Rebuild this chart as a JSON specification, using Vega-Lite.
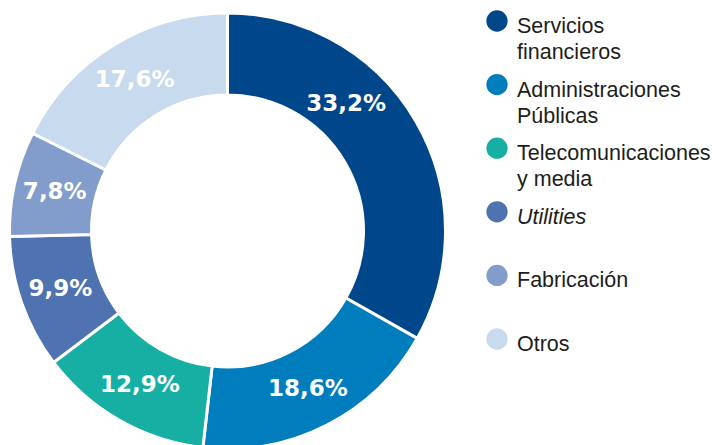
{
  "$schema": "https://vega.github.io/schema/vega-lite/v6.json",
  "padding": 0,
  "spacing": 0,
  "background": "white",
  "config": {"view": {"stroke": null}},
  "data": {"values": [
    {"sector": "Servicios financieros", "legend": "Servicios\nfinancieros", "pct": 33.2, "label": "33,2%", "rank": 1},
    {"sector": "Administraciones Públicas", "legend": "Administraciones\nPúblicas", "pct": 18.6, "label": "18,6%", "rank": 2},
    {"sector": "Telecomunicaciones y media", "legend": "Telecomunicaciones\ny media", "pct": 12.9, "label": "12,9%", "rank": 3},
    {"sector": "Utilities", "legend": "Utilities", "pct": 9.9, "label": "9,9%", "rank": 4},
    {"sector": "Fabricación", "legend": "Fabricación", "pct": 7.8, "label": "7,8%", "rank": 5},
    {"sector": "Otros", "legend": "Otros", "pct": 17.6, "label": "17,6%", "rank": 6}
  ]},
  "hconcat": [
    {
      "width": 455,
      "height": 445,
      "layer": [
        {
          "mark": {"type": "arc", "outerRadius": 218, "innerRadius": 136, "stroke": "white", "strokeWidth": 3, "yOffset": 8.5, "clip": true},
          "encoding": {
            "theta": {"field": "pct", "type": "quantitative", "stack": true},
            "order": {"field": "rank", "type": "quantitative", "sort": "ascending"},
            "color": {"field": "sector", "type": "nominal", "legend": null,
              "scale": {"domain": ["Servicios financieros", "Administraciones Públicas", "Telecomunicaciones y media", "Utilities", "Fabricación", "Otros"],
                        "range": ["#00468B", "#007DBD", "#17AFA4", "#4F72B0", "#829DCB", "#C7DAEE"]}}
          }
        },
        {
          "mark": {"type": "text", "radius": 177, "yOffset": 8.5, "font": "DejaVu Sans", "fontWeight": "bold", "fontSize": 23, "color": "white", "align": "center", "baseline": "middle"},
          "encoding": {
            "theta": {"field": "pct", "type": "quantitative", "stack": true},
            "order": {"field": "rank", "type": "quantitative", "sort": "ascending"},
            "text": {"field": "label", "type": "nominal", "condition": {"test": "datum.rank == 1", "value": ""}}
          }
        },
        {
          "mark": {"type": "text", "radius": 174, "thetaOffset": -0.293, "yOffset": 8.5, "font": "DejaVu Sans", "fontWeight": "bold", "fontSize": 23, "color": "white", "align": "center", "baseline": "middle"},
          "encoding": {
            "theta": {"field": "pct", "type": "quantitative", "stack": true},
            "order": {"field": "rank", "type": "quantitative", "sort": "ascending"},
            "text": {"field": "label", "type": "nominal", "condition": {"test": "datum.rank != 1", "value": ""}}
          }
        }
      ]
    },
    {
      "width": 265,
      "height": 445,
      "encoding": {
        "y": {"field": "sector", "type": "nominal", "axis": null,
          "scale": {"type": "point", "padding": 0, "domain": ["Servicios financieros", "Administraciones Públicas", "Telecomunicaciones y media", "Utilities", "Fabricación", "Otros"], "range": [21, 339]}}
      },
      "layer": [
        {
          "mark": {"type": "circle", "size": 452, "opacity": 1, "x": 42},
          "encoding": {
            "color": {"field": "sector", "type": "nominal", "legend": null}
          }
        },
        {
          "mark": {"type": "text", "x": 62, "dy": 12, "align": "left", "baseline": "alphabetic", "font": "Liberation Sans", "fontSize": 21.5, "color": "#1d1d1b", "lineBreak": "\n", "lineHeight": 26},
          "encoding": {
            "text": {"field": "legend", "type": "nominal", "condition": {"test": "datum.sector == 'Utilities'", "value": ""}}
          }
        },
        {
          "mark": {"type": "text", "x": 62, "dy": 12, "align": "left", "baseline": "alphabetic", "font": "Liberation Sans", "fontSize": 21.5, "fontStyle": "italic", "color": "#1d1d1b"},
          "encoding": {
            "text": {"field": "legend", "type": "nominal", "condition": {"test": "datum.sector != 'Utilities'", "value": ""}}
          }
        }
      ]
    }
  ]
}
